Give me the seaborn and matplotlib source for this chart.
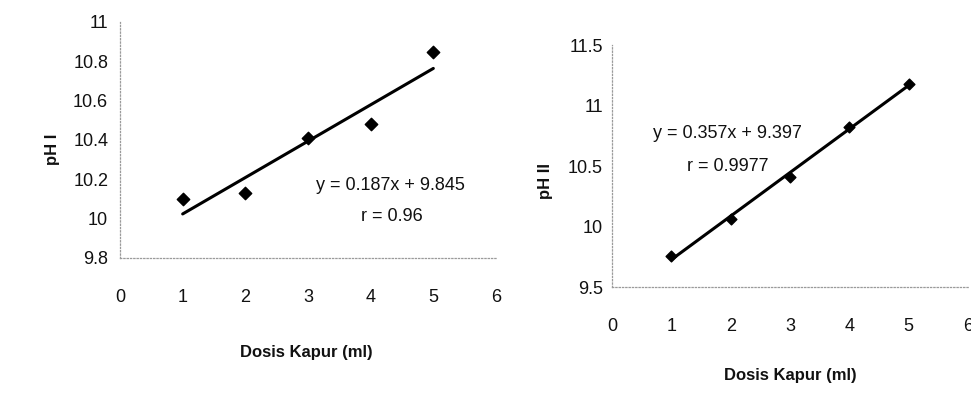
import matplotlib
matplotlib.use("Agg")
import matplotlib.pyplot as plt
import pandas as pd
import seaborn as sns

# dosis kapur (ml) and pH readings for both runs
dosis = [1, 2, 3, 4, 5]
ph_1 = [10.10, 10.13, 10.41, 10.48, 10.85]
ph_2 = [9.76, 10.06, 10.41, 10.82, 11.18]

eq_1 = ["y = 0.187x + 9.845", "r = 0.96"]
eq_2 = ["y = 0.357x + 9.397", "r = 0.9977"]

x_ticks = [0, 1, 2, 3, 4, 5, 6]
y_ticks_1 = [9.8, 10, 10.2, 10.4, 10.6, 10.8, 11]
y_ticks_2 = [9.5, 10, 10.5, 11, 11.5]

FONT = ["Liberation Sans Narrow", "Liberation Sans", "DejaVu Sans"]


def style_axis(ax, yticks, ylabel, ylabel_pos, xlabel_pos, xpad, ypad):
    ax.set_xlim(0, 6)
    ax.set_ylim(yticks[0], yticks[-1])
    ax.set_xticks(x_ticks)
    ax.set_xticklabels([f"{t:g}" for t in x_ticks])
    ax.set_yticks(yticks)
    ax.set_yticklabels([f"{t:g}" for t in yticks])
    ax.tick_params(axis="x", length=0, pad=xpad, labelsize=13, labelcolor="#111111")
    ax.tick_params(axis="y", length=0, pad=ypad, labelsize=13, labelcolor="#111111")
    for side in ["top", "right"]:
        ax.spines[side].set_visible(False)
    for side in ["left", "bottom"]:
        ax.spines[side].set_linestyle(":")
        ax.spines[side].set_color("#9a9a9a")
        ax.spines[side].set_linewidth(0.9)
    ax.set_ylabel(ylabel, fontsize=12, fontweight="bold", color="#111111")
    ax.yaxis.set_label_coords(*ylabel_pos)
    ax.set_xlabel("Dosis Kapur (ml)", fontsize=12, fontweight="bold", color="#111111")
    ax.xaxis.set_label_coords(*xlabel_pos)
    ax.grid(False)
    ax.set_facecolor("white")


def main() -> None:
    sns.set_theme(style="white")
    plt.rcParams["font.family"] = FONT

    df1 = pd.DataFrame({"dosis": dosis, "ph": ph_1})
    df2 = pd.DataFrame({"dosis": dosis, "ph": ph_2})

    fig = plt.figure(figsize=(9.71, 4.15), dpi=100)
    fig.patch.set_facecolor("white")

    ax1 = fig.add_axes([120 / 971, 1 - 258 / 415, 376 / 971, 236 / 415])
    ax2 = fig.add_axes([612 / 971, 1 - 287 / 415, 356 / 971, 242 / 415])

    sns.regplot(data=df1, x="dosis", y="ph", ax=ax1, ci=None, marker="D",
                color="black", scatter_kws={"s": 40, "alpha": 1}, line_kws={"lw": 2.2})
    sns.regplot(data=df2, x="dosis", y="ph", ax=ax2, ci=None, marker="D",
                color="black", scatter_kws={"s": 30, "alpha": 1}, line_kws={"lw": 2.2})

    style_axis(ax1, y_ticks_1, "pH I", (-0.16, 0.46), (0.495, -0.37), 22, 8.5)
    style_axis(ax2, y_ticks_2, "pH II", (-0.166, 0.44), (0.5, -0.335), 22, 6.5)

    ax1.text(4.31, 10.17, eq_1[0], ha="center", va="center", fontsize=13, color="#111111")
    ax1.text(4.34, 10.01, eq_1[1], ha="center", va="center", fontsize=13, color="#111111")
    ax2.text(1.94, 10.77, eq_2[0], ha="center", va="center", fontsize=13, color="#111111")
    ax2.text(1.95, 10.50, eq_2[1], ha="center", va="center", fontsize=13, color="#111111")

    fig.savefig("out.png", dpi=100, facecolor="white")
    plt.close(fig)


if __name__ == "__main__":
    main()
